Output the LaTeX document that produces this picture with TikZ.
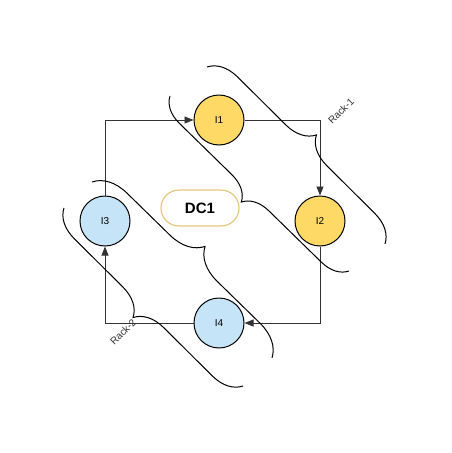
\documentclass[tikz,border=0pt]{standalone}
\usepackage{fontspec}
\setmainfont{Liberation Sans}
\usetikzlibrary{arrows.meta, decorations.pathreplacing}

\definecolor{instYellow}{RGB}{255,217,102}
\definecolor{instBlue}{RGB}{198,228,247}
\definecolor{dcBorder}{RGB}{228,200,128}

\begin{document}
\begin{tikzpicture}[
    x=1pt, y=-1pt,
    >={Triangle[length=9pt, width=7pt]},
    inst/.style={circle, draw, line width=1pt, minimum size=50pt, inner sep=0pt, font=\fontsize{10}{12}\selectfont},
    link/.style={->, line width=0.8pt, draw=black!80},
    rackbrace/.style={decorate, line width=1pt, decoration={brace, amplitude=#1}},
    racklabel/.style={rotate=45, font=\fontsize{10}{12}\selectfont, text=black!80}
]
\useasboundingbox (0,0) rectangle (452,453);

\node[inst, fill=instYellow] (i1) at (219,120) {I1};
\node[inst, fill=instYellow] (i2) at (320,221) {I2};
\node[inst, fill=instBlue] (i3) at (105,221) {I3};
\node[inst, fill=instBlue] (i4) at (219,323) {I4};

\node[draw=dcBorder, line width=1.2pt, rounded corners=18pt, minimum width=78pt, minimum height=36pt,
      font=\fontsize{15}{18}\selectfont\bfseries] (dc1) at (200,208) {DC1};

% ring of links
\draw[link] (i3.north) |- (i1.west);
\draw[link] (i1.east) -| (i2.north);
\draw[link] (i2.south) |- (i4.east);
\draw[link] (i4.west) -| (i3.south);

% Rack-1
\coordinate (r1out-s) at (207,67);
\coordinate (r1out-e) at (385,244);
\coordinate (r1in-s) at (170,96);
\coordinate (r1in-e) at (349,271);
\draw[rackbrace=29pt] (r1out-s) -- (r1out-e);
\draw[rackbrace=26pt, decoration={mirror}] (r1in-s) -- (r1in-e);
\node[racklabel] (rack1) at (341,111) {Rack-1};

% Rack-2
\coordinate (r2in-s) at (92,182);
\coordinate (r2in-e) at (272,358);
\coordinate (r2out-s) at (64,208);
\coordinate (r2out-e) at (243,386);
\draw[rackbrace=33pt] (r2in-s) -- (r2in-e);
\draw[rackbrace=29pt, decoration={mirror}] (r2out-s) -- (r2out-e);
\node[racklabel] (rack2) at (123,332) {Rack-2};

\end{tikzpicture}
\end{document}
